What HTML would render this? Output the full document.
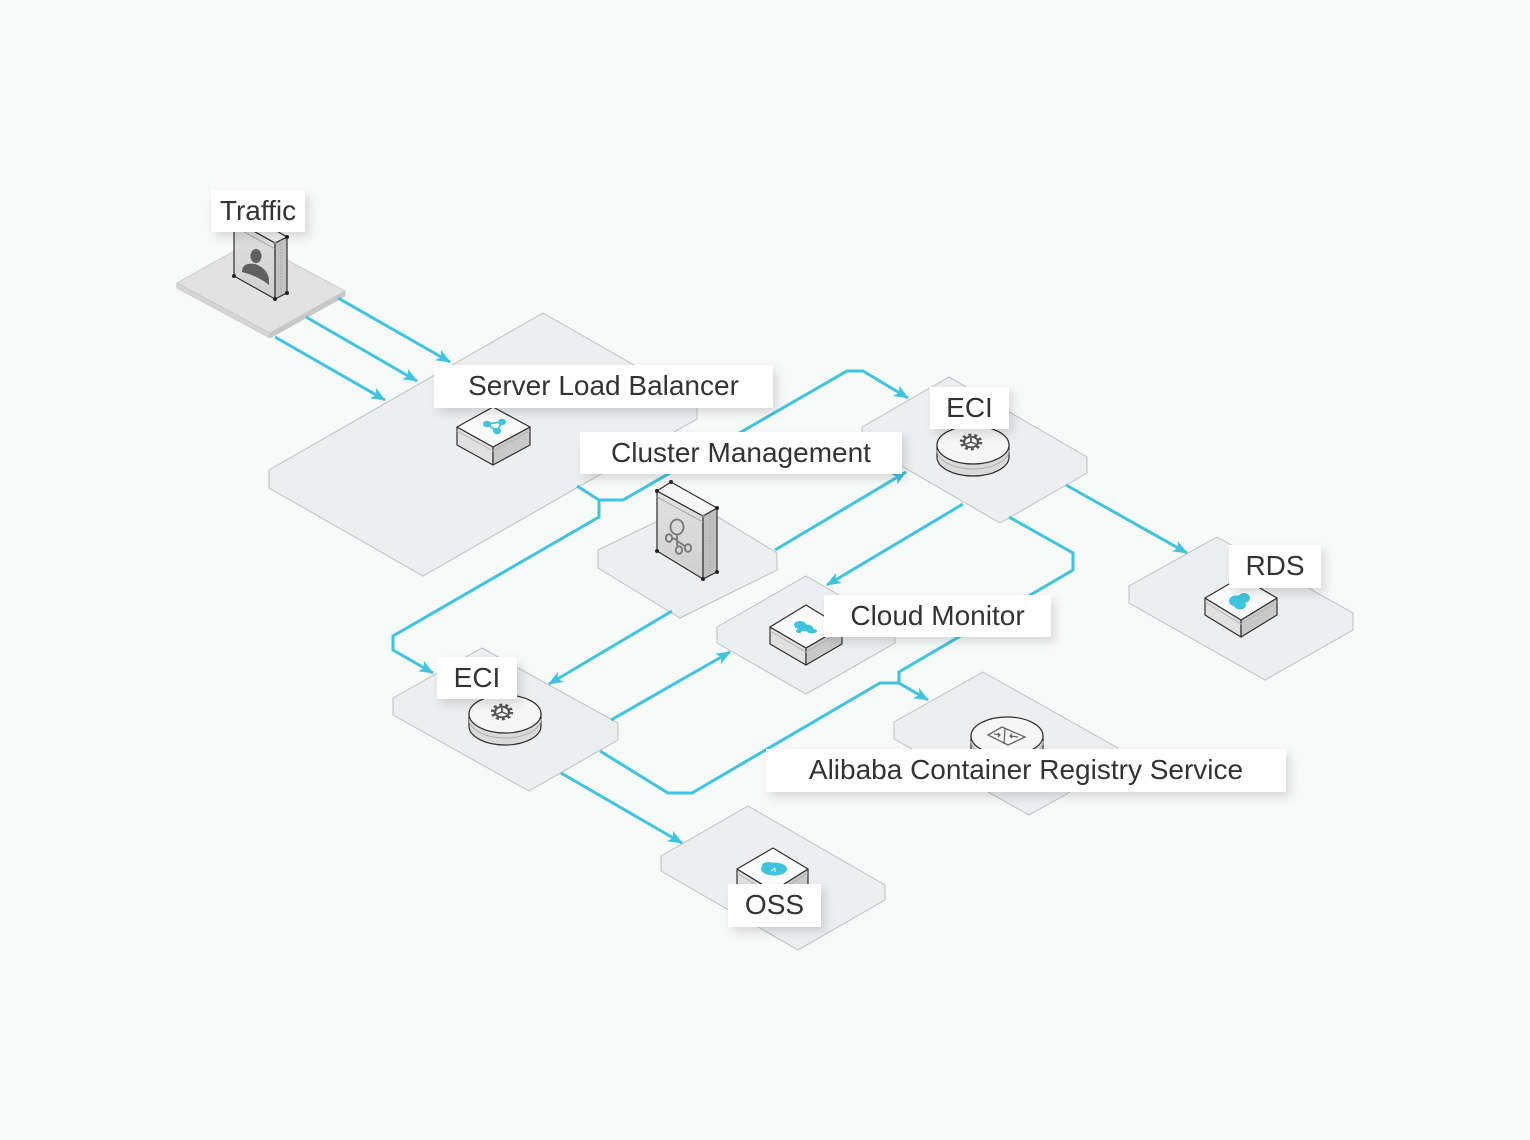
<!DOCTYPE html>
<html>
<head>
<meta charset="utf-8">
<style>
  html,body{margin:0;padding:0;}
  body{width:1530px;height:1140px;background:#f8f9f9;position:relative;overflow:hidden;font-family:"Liberation Sans",Arial,sans-serif;}
  svg{position:absolute;left:0;top:0;}
  .lbl{position:absolute;background:#fff;color:#333;font-size:28px;line-height:42px;height:42px;text-align:center;box-shadow:4px 5px 9px rgba(0,0,0,0.13);white-space:nowrap;}
</style>
</head>
<body>
<svg width="1530" height="1140" viewBox="0 0 1530 1140" xmlns="http://www.w3.org/2000/svg">
  <defs>
    <marker id="ah" markerWidth="16" markerHeight="12" refX="14" refY="6" orient="auto" markerUnits="userSpaceOnUse">
      <path d="M0,0 L15,6 L0,12 L4,6 z" fill="#3ec4de"/>
    </marker>
    <linearGradient id="fg" x1="0" y1="0" x2="0" y2="1">
      <stop offset="0" stop-color="#e2e2e2"/><stop offset="1" stop-color="#d0d0d0"/>
    </linearGradient>
  </defs>

  <!-- plates -->
  <g fill="#eceef0" stroke="#bdbfc1" stroke-width="1">
    <polygon points="543,313 697,401 697,419 423,576 269,488 269,470"/>
    <polygon points="949,377 1087,457 1087,473 1000,523 862,443 862,427"/>
    <polygon points="695,503 777,553 777,570 680,618 598,568 598,550"/>
    <polygon points="806,576 895,627 895,643 806,694 717,643 717,627"/>
    <polygon points="482,648 618,723 618,740 529,791 393,715 393,698"/>
    <polygon points="1217,537 1353,613 1353,630 1265,680 1129,603 1129,586"/>
    <polygon points="983,672 1118,748 1118,765 1029,815 894,739 894,722"/>
    <polygon points="748,806 885,885 885,900 798,950 661,871 661,856"/>
  </g>

  <!-- traffic slab -->
  <g stroke="#c6c6c6" stroke-width="0.8">
    <polygon points="177,283 270,333 270,338 177,288" fill="#d6d6d6"/>
    <polygon points="270,333 345,291 345,296 270,338" fill="#c8c8c8"/>
    <polygon points="177,283 252,241 345,291 270,333" fill="#e2e2e2"/>
  </g>

  <!-- connectors -->
  <g fill="none" stroke="#3ec4de" stroke-width="3" stroke-linejoin="miter">
    <line x1="338" y1="298" x2="450" y2="362" marker-end="url(#ah)"/>
    <line x1="306" y1="317" x2="417" y2="381" marker-end="url(#ah)"/>
    <line x1="275" y1="337" x2="385" y2="400" marker-end="url(#ah)"/>
    <polyline points="577,486 599,500 623,500 847,371 863,371 908,398" marker-end="url(#ah)"/>
    <polyline points="599,500 599,517 393,636 393,650 433,673" marker-end="url(#ah)"/>
    <line x1="775" y1="550" x2="906" y2="472" marker-end="url(#ah)"/>
    <line x1="672" y1="611" x2="549" y2="684" marker-end="url(#ah)"/>
    <line x1="963" y1="504" x2="827" y2="585" marker-end="url(#ah)"/>
    <line x1="1066" y1="485" x2="1187" y2="553" marker-end="url(#ah)"/>
    <polyline points="1009,517 1073,553 1073,570 899,672 899,683 928,700" marker-end="url(#ah)"/>
    <polyline points="600,751 668,793 692,793 880,683 899,683"/>
    <line x1="611" y1="720" x2="730" y2="652" marker-end="url(#ah)"/>
    <line x1="561" y1="773" x2="682" y2="843" marker-end="url(#ah)"/>
  </g>

  <!-- Traffic box -->
  <g stroke="#2e2e2e" stroke-width="1.2" stroke-linejoin="round">
    <polygon points="234,220 275,243 275,299 234,276" fill="url(#fg)"/>
    <polygon points="275,243 287,237 287,293 275,299" fill="#c2c2c2"/>
    <polygon points="234,220 246,213 287,237 275,243" fill="#f0f0f0"/>
  </g>
  <line x1="234" y1="226" x2="275" y2="249" stroke="#a8a8a8" stroke-width="1"/>
  <line x1="281" y1="240" x2="281" y2="296" stroke="#9a9a9a" stroke-width="0.8" stroke-dasharray="1.5 1.5"/>
  <g fill="#606060">
    <ellipse cx="256" cy="256" rx="5.5" ry="7"/>
    <path d="M242,271 Q243,262 255,264 Q267,268 269,279 L269,285 Q258,276 242,272 z"/>
  </g>
  <g fill="#222">
    <circle cx="234" cy="276" r="2"/><circle cx="275" cy="299" r="2"/><circle cx="287" cy="293" r="2"/><circle cx="287" cy="237" r="2"/><circle cx="275" cy="243" r="1.6" fill="#888"/>
  </g>

  <!-- Cluster box -->
  <g stroke="#2e2e2e" stroke-width="1.2" stroke-linejoin="round">
    <polygon points="657,491 703,516 703,579 657,551" fill="url(#fg)"/>
    <polygon points="703,516 717,508 717,572 703,579" fill="#c0c0c0"/>
    <polygon points="657,491 671,482 717,508 703,516" fill="#f6f6f6"/>
  </g>
  <line x1="657" y1="497" x2="703" y2="522" stroke="#a8a8a8" stroke-width="1"/>
  <line x1="710" y1="513" x2="710" y2="576" stroke="#9a9a9a" stroke-width="0.8" stroke-dasharray="1.5 1.5"/>
  <g fill="none" stroke="#777" stroke-width="1.8">
    <ellipse cx="677" cy="527" rx="6.5" ry="7.5"/>
    <path d="M677,535 L677,545 M677,540 L672,538 M677,545 L679,547 M677,541 L685,546"/>
    <ellipse cx="669" cy="538" rx="3.2" ry="3.8"/>
    <ellipse cx="679" cy="550" rx="3.2" ry="3.8"/>
    <ellipse cx="688" cy="548" rx="3.2" ry="3.8"/>
  </g>
  <g fill="#222">
    <circle cx="657" cy="491" r="2"/><circle cx="671" cy="482" r="2"/><circle cx="717" cy="508" r="2"/><circle cx="657" cy="551" r="2"/><circle cx="703" cy="579" r="2"/><circle cx="717" cy="572" r="2"/><circle cx="703" cy="516" r="1.6" fill="#888"/>
  </g>

  <!-- square devices -->
  <g stroke="#2e2e2e" stroke-width="1.2" stroke-linejoin="round">
    <polygon points="457,427 493,447 493,465 457,445" fill="#e0e0e0"/>
    <polygon points="493,447 530,427 530,445 493,465" fill="#c9c9c9"/>
    <polygon points="493,407 530,427 493,447 457,427" fill="#fbfbfb"/>
    <polygon points="770,627 806,648 806,665 770,644" fill="#e0e0e0"/>
    <polygon points="806,648 842,627 842,644 806,665" fill="#c9c9c9"/>
    <polygon points="806,605 842,627 806,648 770,627" fill="#fbfbfb"/>
    <polygon points="1205,598 1241,620 1241,637 1205,615" fill="#e0e0e0"/>
    <polygon points="1241,620 1277,598 1277,615 1241,637" fill="#c9c9c9"/>
    <polygon points="1241,577 1277,598 1241,620 1205,598" fill="#fbfbfb"/>
    <polygon points="737,869 773,891 773,908 737,886" fill="#e0e0e0"/>
    <polygon points="773,891 808,869 808,886 773,908" fill="#c9c9c9"/>
    <polygon points="773,848 808,869 773,891 737,869" fill="#fbfbfb"/>
  </g>
  <g fill="none" stroke="#b5b5b5" stroke-width="1">
    <polyline points="457,431 493,451 530,431"/>
    <polyline points="770,631 806,652 842,631"/>
    <polyline points="1205,602 1241,624 1277,602"/>
    <polyline points="737,873 773,895 808,873"/>
  </g>

  <!-- cyan icons -->
  <g fill="#3ec4de" stroke="#3ec4de">
    <line x1="487" y1="424" x2="502" y2="422" stroke-width="1.8"/>
    <line x1="487" y1="424" x2="497" y2="431" stroke-width="1.8"/>
    <line x1="502" y1="422" x2="497" y2="431" stroke-width="1.8"/>
    <ellipse cx="487" cy="424" rx="4" ry="3.2" stroke="none"/>
    <ellipse cx="502" cy="422" rx="4" ry="3.2" stroke="none"/>
    <ellipse cx="497" cy="431" rx="4" ry="3.2" stroke="none"/>
    <ellipse cx="800" cy="625" rx="6" ry="4" stroke="none"/>
    <ellipse cx="806" cy="628" rx="7" ry="3.5" stroke="none"/>
    <ellipse cx="812" cy="631" rx="5" ry="2.5" stroke="none"/>
    <ellipse cx="799" cy="631" rx="3" ry="2" stroke="none"/>
    <ellipse cx="1236" cy="601" rx="7" ry="5.5" stroke="none"/>
    <ellipse cx="1244" cy="598" rx="6" ry="5" stroke="none"/>
    <ellipse cx="1240" cy="605" rx="6" ry="4.5" stroke="none"/>
    <ellipse cx="774" cy="869" rx="13" ry="6.5" stroke="none"/>
    <ellipse cx="768" cy="866" rx="6" ry="4" stroke="none"/>
  </g>
  <path d="M771,871 L775,868 L775,872" fill="none" stroke="#fff" stroke-width="1"/>

  <!-- discs -->
  <g stroke="#2e2e2e" stroke-width="1.2">
    <path d="M469,714 V726 A36,19 0 0 0 541,726 V714 Z" fill="#dadada"/>
    <ellipse cx="505" cy="714" rx="36" ry="19" fill="#f6f6f6"/>
    <path d="M937,445 V457 A36,19 0 0 0 1009,457 V445 Z" fill="#dadada"/>
    <ellipse cx="973" cy="445" rx="36" ry="19" fill="#f6f6f6"/>
    <path d="M971,736 V748 A36,19 0 0 0 1043,748 V736 Z" fill="#dadada"/>
    <ellipse cx="1007" cy="736" rx="36" ry="19" fill="#f6f6f6"/>
  </g>
  <g fill="none" stroke="#b0b0b0" stroke-width="1">
    <path d="M469,719 A36,19 0 0 0 541,719"/>
    <path d="M937,450 A36,19 0 0 0 1009,450"/>
    <path d="M971,741 A36,19 0 0 0 1043,741"/>
  </g>
  <!-- gears -->
  <g transform="translate(502,712) scale(1,0.75)" fill="none" stroke="#555">
    <circle r="9.5" stroke-width="3.5" stroke-dasharray="3 2.97"/>
    <circle r="7" stroke-width="2.4"/>
    <path d="M0,0 L0,-5.5 M0,0 L4.8,2.8 M0,0 L-4.8,2.8" stroke-width="1.8"/>
  </g>
  <g transform="translate(971,442) scale(1,0.75)" fill="none" stroke="#555">
    <circle r="9.5" stroke-width="3.5" stroke-dasharray="3 2.97"/>
    <circle r="7" stroke-width="2.4"/>
    <path d="M0,0 L0,-5.5 M0,0 L4.8,2.8 M0,0 L-4.8,2.8" stroke-width="1.8"/>
  </g>
  <!-- ACR icon -->
  <g fill="none" stroke="#666" stroke-width="1.3">
    <polygon points="988,735 1002,727 1025,737 1008,745"/>
    <line x1="1005" y1="728" x2="1004" y2="744"/>
    <path d="M994,734 L1000,735 M998,733 L1000,735 L998,737 M1018,737 L1010,736 M1012,734 L1010,736 L1012,738"/>
  </g>
</svg>

<div class="lbl" style="left:211px;top:190px;width:94px;">Traffic</div>
<div class="lbl" style="left:434px;top:365px;width:339px;height:43px;">Server Load Balancer</div>
<div class="lbl" style="left:580px;top:432px;width:322px;">Cluster Management</div>
<div class="lbl" style="left:930px;top:387px;width:79px;">ECI</div>
<div class="lbl" style="left:1229px;top:545px;width:92px;height:43px;">RDS</div>
<div class="lbl" style="left:824px;top:595px;width:227px;">Cloud Monitor</div>
<div class="lbl" style="left:437px;top:657px;width:80px;">ECI</div>
<div class="lbl" style="left:766px;top:749px;width:520px;height:43px;">Alibaba Container Registry Service</div>
<div class="lbl" style="left:728px;top:884px;width:93px;height:43px;">OSS</div>
</body>
</html>
